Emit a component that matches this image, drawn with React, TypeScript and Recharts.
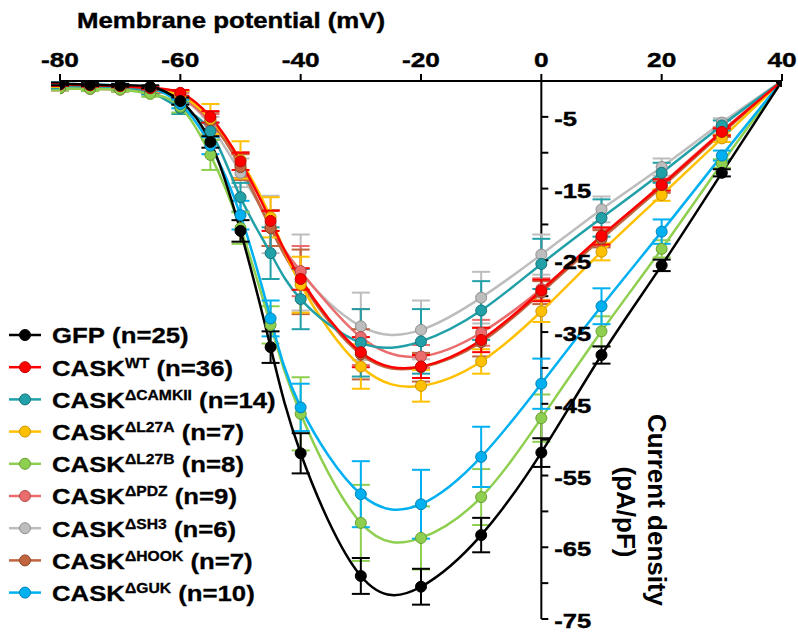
import { LineChart, Line, XAxis, YAxis, ErrorBar, ReferenceLine, ReferenceDot } from 'recharts';

const FONT = '"Liberation Sans", Arial, sans-serif';

// membrane potential steps (mV)
const volts = [-80, -75, -70, -65, -60, -55, -50, -45, -40, -30, -20, -10, 0, 10, 20, 30, 40];
const xTicks = [-80, -60, -40, -20, 0, 20, 40];
const yTicks = [-5, -10, -15, -20, -25, -30, -35, -40, -45, -50, -55, -60, -65, -70, -75];
const yTickLabels = [-5, -15, -25, -35, -45, -55, -65, -75];

// current density (pA/pF), mean and SEM
const gfp = [-0.4, -0.5, -0.6, -0.8, -2.8, -8.5, -20.9, -37.1, -51.9, -69.0, -70.5, -63.3, -51.8, -38.2, -25.7, -12.8, 0];
const gfpErr = [0.2, 0.2, 0.2, 0.2, 0.5, 0.8, 1.5, 2.2, 2.8, 2.5, 2.5, 2.4, 2.0, 1.2, 0.8, 0.5, 0];
const wt = [-0.5, -0.6, -0.7, -1.0, -1.65, -5.0, -11.2, -19.5, -27.6, -37.8, -39.8, -36.1, -29.2, -21.6, -14.5, -7.1, 0];
const wtErr = [0.2, 0.2, 0.2, 0.2, 0.4, 0.8, 1.2, 1.4, 1.5, 2.1, 1.6, 1.7, 1.5, 1.2, 0.8, 0.5, 0];
const camkii = [-0.8, -0.9, -1.0, -1.5, -3.8, -7.0, -16.2, -24.0, -30.4, -36.5, -36.3, -32.0, -25.5, -19.1, -12.8, -6.2, 0];
const camkiiErr = [0.3, 0.3, 0.3, 0.4, 0.8, 1.2, 2.0, 3.6, 4.2, 4.7, 4.5, 4.1, 3.5, 2.6, 1.4, 0.7, 0];
const l27a = [-0.7, -0.8, -0.9, -1.2, -2.0, -5.3, -11.0, -19.0, -28.4, -39.8, -42.5, -39.1, -32.1, -23.8, -15.9, -8.0, 0];
const l27aErr = [0.2, 0.2, 0.2, 0.3, 0.6, 2.1, 2.6, 2.8, 3.9, 3.1, 2.2, 1.7, 1.5, 1.2, 0.8, 0.5, 0];
const l27b = [-1.0, -1.1, -1.2, -1.8, -3.6, -10.3, -20.5, -34.0, -46.4, -61.6, -63.7, -58.0, -47.0, -34.9, -23.4, -11.5, 0];
const l27bErr = [0.3, 0.3, 0.3, 0.4, 0.8, 2.1, 2.2, 2.6, 5.1, 5.3, 4.4, 3.9, 3.3, 2.1, 1.2, 0.6, 0];
const pdz = [-1.0, -1.1, -1.2, -1.5, -2.2, -5.8, -11.7, -20.5, -26.5, -35.7, -38.4, -35.1, -29.0, -21.8, -14.4, -7.0, 0];
const pdzErr = [0.3, 0.3, 0.3, 0.3, 0.6, 1.2, 1.8, 2.5, 3.5, 3.9, 1.6, 1.8, 1.5, 1.2, 0.8, 0.5, 0];
const sh3 = [-0.9, -1.0, -1.1, -1.4, -2.3, -6.2, -12.8, -20.0, -26.7, -34.2, -34.7, -30.2, -24.2, -17.9, -12.0, -5.8, 0];
const sh3Err = [0.3, 0.3, 0.3, 0.3, 0.6, 1.2, 2.0, 4.0, 5.3, 4.7, 4.1, 3.6, 2.8, 1.8, 1.2, 0.6, 0];
const hook = [-1.0, -1.0, -1.1, -1.5, -2.0, -5.5, -12.0, -20.5, -28.0, -38.1, -39.9, -36.4, -29.5, -22.0, -14.8, -7.3, 0];
const hookErr = [0.3, 0.3, 0.3, 0.3, 0.6, 1.2, 1.8, 2.5, 4.5, 3.5, 2.0, 2.0, 1.6, 1.2, 0.8, 0.5, 0];
const guk = [-0.4, -0.5, -0.6, -1.0, -3.2, -9.0, -18.7, -33.1, -45.5, -57.6, -59.0, -52.4, -42.2, -31.4, -21.0, -10.4, 0];
const gukErr = [0.2, 0.2, 0.2, 0.3, 0.6, 1.2, 2.0, 2.5, 3.3, 4.6, 4.8, 4.2, 3.5, 2.5, 1.7, 0.7, 0];

const series = [
  { key: 'gfp', name: 'GFP', sup: '', n: 25, color: '#000000', edge: '#000000', values: gfp, errs: gfpErr },
  { key: 'wt', name: 'CASK', sup: 'WT', n: 36, color: '#FF0000', edge: '#C00000', values: wt, errs: wtErr },
  { key: 'camkii', name: 'CASK', sup: 'ΔCAMKII', n: 14, color: '#21A0A8', edge: '#17737A', values: camkii, errs: camkiiErr },
  { key: 'l27a', name: 'CASK', sup: 'ΔL27A', n: 7, color: '#FFC000', edge: '#C89400', values: l27a, errs: l27aErr },
  { key: 'l27b', name: 'CASK', sup: 'ΔL27B', n: 8, color: '#8FCF4F', edge: '#66A030', values: l27b, errs: l27bErr },
  { key: 'pdz', name: 'CASK', sup: 'ΔPDZ', n: 9, color: '#EA6C6C', edge: '#B84B4B', values: pdz, errs: pdzErr },
  { key: 'sh3', name: 'CASK', sup: 'ΔSH3', n: 6, color: '#BDBDBD', edge: '#8E8E8E', values: sh3, errs: sh3Err },
  { key: 'hook', name: 'CASK', sup: 'ΔHOOK', n: 7, color: '#C0653F', edge: '#8E4628', values: hook, errs: hookErr },
  { key: 'guk', name: 'CASK', sup: 'ΔGUK', n: 10, color: '#00B0F0', edge: '#0082B4', values: guk, errs: gukErr },
];

const drawOrder = ['sh3', 'pdz', 'hook', 'l27a', 'camkii', 'l27b', 'guk', 'wt', 'gfp'];

const data = volts.map((v, i) => {
  const row: any = { v };
  series.forEach((s) => {
    row[s.key] = s.values[i];
    row[s.key + 'Err'] = s.errs[i];
  });
  return row;
});

function XTick(props: any) {
  const { x, y, payload } = props;
  return (
    <g transform={`translate(${x},${y}) scale(1.25,1)`}>
      <text x={0} y={0} textAnchor="middle" fontFamily={FONT} fontWeight="bold" fontSize={21} fill="#000" stroke="#000" strokeWidth={0.4}>
        {payload.value}
      </text>
    </g>
  );
}

function yTickShape(value: number) {
  return (p: any) => (
    <g>
      <line x1={p.cx} x2={p.cx + 7} y1={p.cy} y2={p.cy} stroke="#000" strokeWidth={2} />
      {yTickLabels.includes(value) ? (
        <g transform={`translate(${p.cx + 13},${p.cy + 9}) scale(1.22,1)`}>
          <text x={0} y={0} fontFamily={FONT} fontWeight="bold" fontSize={21} fill="#000" stroke="#000" strokeWidth={0.4}>
            {value}
          </text>
        </g>
      ) : null}
    </g>
  );
}

function Overlay() {
  const rowY = (i: number) => 335 + i * 32.2;
  return (
    <svg width={798} height={638} style={{ position: 'absolute', left: 0, top: 0, pointerEvents: 'none' }}>
      <g transform="translate(77,28) scale(1.2,1)">
        <text x={0} y={0} fontFamily={FONT} fontWeight="bold" fontSize={21.5} fill="#000" stroke="#000" strokeWidth={0.4}>
          Membrane potential (mV)
        </text>
      </g>
      <text transform="translate(648,510) rotate(90)" textAnchor="middle" fontFamily={FONT} fontWeight="bold" fontSize={26} fill="#000">
        Current density
      </text>
      <text transform="translate(617,512) rotate(90)" textAnchor="middle" fontFamily={FONT} fontWeight="bold" fontSize={26} fill="#000">
        (pA/pF)
      </text>
      {series.map((s, i) => (
        <g key={s.key}>
          <line x1={9} x2={41} y1={rowY(i)} y2={rowY(i)} stroke={s.color} strokeWidth={2.5} />
          <circle cx={25} cy={rowY(i)} r={5.5} fill={s.color} stroke={s.edge} strokeWidth={1} />
          <g transform={`translate(52,${rowY(i) + 8.3}) scale(1.12,1)`}>
            <text x={0} y={0} fontFamily={FONT} fontWeight="bold" fontSize={23} fill="#000" stroke="#000" strokeWidth={0.3}>
              <tspan>{s.name}</tspan>
              {s.sup ? (
                <tspan fontSize={14} dy={-8}>
                  {s.sup}
                </tspan>
              ) : null}
              <tspan fontSize={23} dy={s.sup ? 8 : 0}>
                {` (n=${s.n})`}
              </tspan>
            </text>
          </g>
        </g>
      ))}
    </svg>
  );
}

export default function App() {
  return (
    <div style={{ position: 'absolute', left: 0, top: 0, width: 798, height: 638, background: '#fff' }}>
      <LineChart width={798} height={638} data={data} margin={{ top: 51, right: 16, bottom: 19, left: 60 }}>
        <XAxis
          type="number"
          dataKey="v"
          domain={[-80, 40]}
          ticks={xTicks}
          orientation="top"
          height={30}
          axisLine={{ stroke: '#000', strokeWidth: 2 }}
          tickLine={{ stroke: '#000', strokeWidth: 2 }}
          tickSize={7}
          tickMargin={7}
          tick={<XTick />}
          allowDataOverflow
        />
        <YAxis type="number" domain={[-75, 0]} hide allowDataOverflow />
        <ReferenceLine x={0} stroke="#000" strokeWidth={2} />
        {yTicks.map((t) => (
          <ReferenceDot key={t} x={0} y={t} r={0} shape={yTickShape(t)} />
        ))}
        {drawOrder.map((k) => {
          const s = series.find((x) => x.key === k)!;
          return (
            <Line
              key={s.key}
              type="natural"
              dataKey={s.key}
              stroke={s.color}
              strokeWidth={2.5}
              dot={{ r: 5.5, fill: s.color, stroke: s.edge, strokeWidth: 1 }}
              activeDot={false}
              isAnimationActive={false}
            >
              <ErrorBar dataKey={s.key + 'Err'} width={9} stroke={s.color} strokeWidth={2} direction="y" isAnimationActive={false} />
            </Line>
          );
        })}
      </LineChart>
      <Overlay />
    </div>
  );
}
